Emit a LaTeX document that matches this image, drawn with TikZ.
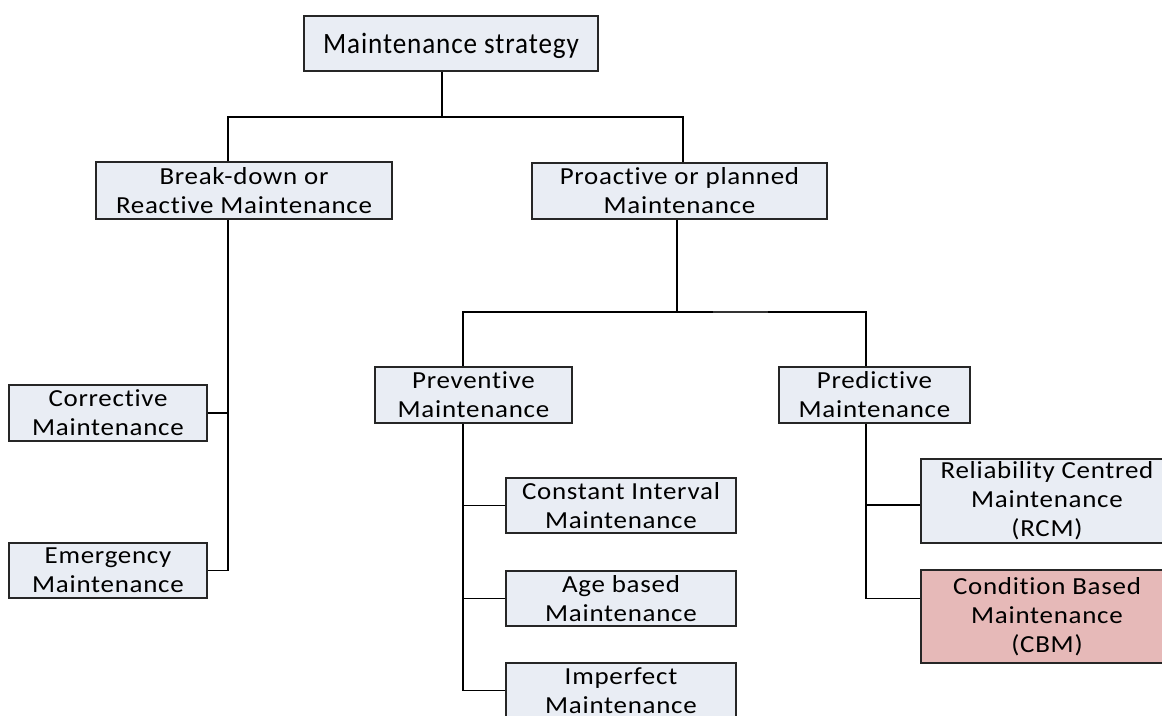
\documentclass[tikz,border=0pt]{standalone}
\usepackage{fontspec}
\setmainfont{Carlito}[FakeStretch=1.1,LetterSpace=3,Ligatures=NoCommon]
\newfontfamily\rootfont{Carlito}[FakeStretch=0.92,LetterSpace=3,Ligatures=NoCommon]
\begin{document}
\begin{tikzpicture}[x=1pt,y=1pt,
  box/.style={draw=black!85, line width=1.4pt, fill=boxfill, inner sep=0pt,
    align=center, font=\fontsize{24.5}{29}\selectfont},
  hot/.style={box, fill=hotfill},
  link/.style={draw=black, line width=1.4pt}]
\definecolor{boxfill}{HTML}{E9EDF4}
\definecolor{hotfill}{HTML}{E6B9B8}
\useasboundingbox (0,0) rectangle (1162,-715);
\clip (0,0) rectangle (1162,-715);

% boxes
\node[box, minimum width=294, minimum height=55, text height=19pt, text depth=0pt,
  font=\rootfont\fontsize{29.5}{34}\selectfont] (root) at (451,-43.5) {Maintenance strategy};
\node[box, minimum width=296, minimum height=57] (brk) at (244,-190.5) {Break-down or\\Reactive Maintenance};
\node[box, minimum width=295, minimum height=56] (pro) at (679.5,-191) {Proactive or planned\\Maintenance};
\node[box, minimum width=198, minimum height=56] (cor) at (108,-413) {Corrective\\Maintenance};
\node[box, minimum width=198, minimum height=55] (emg) at (108,-570.5) {Emergency\\Maintenance};
\node[box, minimum width=197, minimum height=56] (prev) at (473.5,-395) {Preventive\\Maintenance};
\node[box, minimum width=191, minimum height=56] (pred) at (874.5,-395) {Predictive\\Maintenance};
\node[box, minimum width=230, minimum height=55] (con) at (621,-505.5) {Constant Interval\\Maintenance};
\node[box, minimum width=230, minimum height=55] (age) at (621,-598.5) {Age based\\Maintenance};
\node[box, minimum width=230, minimum height=55] (imp) at (621,-690.5) {Imperfect\\Maintenance};
\node[box, minimum width=252, minimum height=84] (rcm) at (1047,-501) {Reliability Centred\\Maintenance\\(RCM)};
\node[hot, minimum width=252, minimum height=93] (cbm) at (1047,-616.5) {Condition Based\\Maintenance\\(CBM)};

% bus points
\coordinate (t) at (442,-117);
\coordinate (bL) at (228,-117);
\coordinate (bR) at (683,-117);
\coordinate (pm) at (677,-312);
\coordinate (pL) at (463,-312);
\coordinate (pR) at (866,-312);
\coordinate (s1) at (713,-312);
\coordinate (s2) at (768,-312);

% first level
\draw[link] (root.south -| t) -- (t);
\draw[link] (brk.north -| bL) |- (bR) -- (pro.north -| bR);

% reactive branch
\draw[link] (brk.south -| bL) |- (emg.east);
\draw[link] (cor.east) -- (cor.east -| bL);

% proactive branch
\draw[link] (pro.south -| pm) -- (pm);
\draw[link] (prev.north -| pL) |- (pR) -- (pred.north -| pR);
\draw[line width=2pt, black!80] (s1) -- (s2);

% preventive branch
\draw[link] (prev.south -| pL) |- (imp.west);
\draw[link] (con.west) -- (con.west -| pL);
\draw[link] (age.west) -- (age.west -| pL);

% predictive branch
\draw[link] (pred.south -| pR) |- ([yshift=18pt]cbm.west);
\draw[link] ([yshift=-4pt]rcm.west) -- ([yshift=-4pt]rcm.west -| pR);
\end{tikzpicture}
\end{document}
